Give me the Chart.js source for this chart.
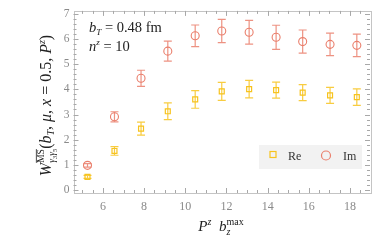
<!DOCTYPE html>
<html><head><meta charset="utf-8">
<script src="https://cdn.jsdelivr.net/npm/chart.js@4"></script>
<style>html,body{margin:0;padding:0;background:#fff}#w{width:382px;height:243px}</style>
</head><body><div id="w"><canvas id="c"></canvas></div>
<script>
const pzbz = [5.25, 6.56, 7.85, 9.15, 10.48, 11.77, 13.10, 14.41, 15.70, 17.03, 18.33];
const reVals = [0.52, 1.55, 2.44, 3.13, 3.60, 3.92, 4.01, 3.97, 3.87, 3.76, 3.69];
const reErr  = [0.06, 0.17, 0.26, 0.33, 0.35, 0.36, 0.35, 0.32, 0.32, 0.32, 0.33];
const imVals = [0.98, 2.91, 4.44, 5.52, 6.13, 6.32, 6.27, 6.07, 5.90, 5.79, 5.75];
const imErr  = [0.07, 0.20, 0.32, 0.40, 0.43, 0.46, 0.47, 0.48, 0.46, 0.45, 0.45];
const xTickLabels = [6, 8, 10, 12, 14, 16, 18];
const yTickLabels = [0, 1, 2, 3, 4, 5, 6, 7];
const seriesNames = ['Re', 'Im'];

const RE_C = '#f7c31e', IM_C = '#ea7f6c';
const SERIF = '"Liberation Serif", "DejaVu Serif", serif';

function richText(ctx, x, y, parts) {
  let cx = x, stackStart = null, stackMax = 0;
  for (const p of parts) {
    ctx.font = (p.it ? 'italic ' : '') + p.s + 'px ' + SERIF;
    if (p.stack === 'begin') { stackStart = cx; }
    if (p.stack === 'second') { stackMax = Math.max(stackMax, cx - stackStart); cx = stackStart; }
    const w = ctx.measureText(p.t).width;
    ctx.fillText(p.t, cx, y + (p.dy || 0));
    if (p.over) { ctx.fillRect(cx, y + (p.dy || 0) - p.s * 0.8, w, 0.8); }
    cx += w;
    if (p.stack === 'end') { cx = stackStart + Math.max(stackMax, cx - stackStart); stackStart = null; stackMax = 0; }
  }
  return cx - x;
}
function richWidth(parts) {
  const c = document.createElement('canvas').getContext('2d');
  return richText(c, 0, 0, parts);
}

const errorBars = {
  id: 'errorBars',
  afterDatasetsDraw(chart) {
    const ctx = chart.ctx, xs = chart.scales.x, ys = chart.scales.y;
    const sets = [[reVals, reErr, RE_C], [imVals, imErr, IM_C]];
    ctx.save();
    for (const [vals, errs, col] of sets) {
      ctx.strokeStyle = col; ctx.globalAlpha = 0.85; ctx.lineWidth = 1.2;
      vals.forEach((v, i) => {
        const px = xs.getPixelForValue(pzbz[i]);
        const y1 = ys.getPixelForValue(v - errs[i]), y2 = ys.getPixelForValue(v + errs[i]);
        ctx.beginPath();
        ctx.moveTo(px, y1); ctx.lineTo(px, y2);
        ctx.moveTo(px - 4, y1); ctx.lineTo(px + 4, y1);
        ctx.moveTo(px - 4, y2); ctx.lineTo(px + 4, y2);
        ctx.stroke();
      });
    }
    ctx.restore();
  }
};

const frame = {
  id: 'frame',
  afterDraw(chart) {
    const ctx = chart.ctx, a = chart.chartArea, xs = chart.scales.x, ys = chart.scales.y;
    ctx.save();
    ctx.strokeStyle = '#c4c4c4'; ctx.lineWidth = 1;
    ctx.strokeRect(Math.round(a.left) + 0.5, Math.round(a.top) + 0.5, Math.round(a.right - a.left), Math.round(a.bottom - a.top));
    ctx.strokeStyle = '#a8a8a8';
    ctx.beginPath();
    for (let v = 4.5; v <= 19.01; v += 0.5) {
      if (v < xs.min || v > xs.max) continue;
      const px = Math.round(xs.getPixelForValue(v)) + 0.5;
      const L = (Math.abs(v % 2) < 1e-6) ? 5 : 3;
      ctx.moveTo(px, a.bottom); ctx.lineTo(px, a.bottom - L);
      ctx.moveTo(px, a.top); ctx.lineTo(px, a.top + L);
    }
    for (let k = 0; k <= 36; k++) {
      const v = k * 0.2;
      if (v < ys.min || v > ys.max) continue;
      const py = Math.round(ys.getPixelForValue(v)) + 0.5;
      const L = (k % 5 === 0) ? 5 : 3;
      ctx.moveTo(a.left, py); ctx.lineTo(a.left + L, py);
      ctx.moveTo(a.right, py); ctx.lineTo(a.right - L, py);
    }
    ctx.stroke();

    // annotations
    ctx.fillStyle = '#222';
    ctx.textBaseline = 'alphabetic';
    richText(ctx, 89, 31.5, [{t:'b', s:14.5, it:true}, {t:'T', s:9, it:true, dy:3}, {t:' = 0.48 fm', s:14.5}]);
    richText(ctx, 89, 51, [{t:'n', s:14.5, it:true}, {t:'z', s:9, it:true, dy:-6}, {t:' = 10', s:14.5}]);

    // x title
    const xt = [{t:'P', s:15, it:true}, {t:'z', s:10, it:true, dy:-6}, {t:'  b', s:15, it:true},
                {t:'max', s:10, dy:-6, stack:'begin'}, {t:'z', s:10, it:true, dy:4, stack:'second'}, {t:'', s:10, stack:'end'}];
    const xw = richWidth(xt);
    richText(ctx, 221 - xw / 2, 231, xt);

    // y title
    const yt = [{t:'W', s:16, it:true},
      {t:'MS', s:9.5, dy:-7.5, over:true, stack:'begin'},
      {t:'γ', s:9.5, it:true, dy:3.5, stack:'second'}, {t:'3', s:6.5, dy:5.5}, {t:'γ', s:9.5, it:true, dy:3.5}, {t:'5', s:6.5, dy:5.5, stack:'end'},
      {t:'(', s:16}, {t:'b', s:16, it:true}, {t:'T', s:10, it:true, dy:3}, {t:', ', s:16}, {t:'μ', s:16, it:true},
      {t:', ', s:16}, {t:'x', s:16, it:true}, {t:' = 0.5, ', s:16}, {t:'P', s:16, it:true}, {t:'z', s:10, it:true, dy:-6}, {t:')', s:16}];
    const yw = richWidth(yt);
    ctx.save();
    ctx.translate(51, 105.5);
    ctx.rotate(-Math.PI / 2);
    richText(ctx, -yw / 2, 0, yt);
    ctx.restore();

    // legend
    ctx.fillStyle = '#f2f2f2';
    ctx.fillRect(259, 145, 103, 24);
    ctx.lineWidth = 1.2;
    ctx.strokeStyle = RE_C;
    ctx.strokeRect(270, 151.5, 6, 6);
    ctx.strokeStyle = IM_C;
    ctx.beginPath(); ctx.arc(326, 155.5, 4.5, 0, Math.PI * 2); ctx.stroke();
    ctx.fillStyle = '#333';
    ctx.font = '12px ' + SERIF;
    ctx.fillText(seriesNames[0], 288, 160);
    ctx.fillText(seriesNames[1], 343, 160);
    ctx.restore();
  }
};

new Chart(document.getElementById('c'), {
  type: 'scatter',
  data: {
    datasets: [
      { label: seriesNames[0], data: pzbz.map((x, i) => ({x, y: reVals[i]})), pointStyle: 'rect', radius: 3.5,
        borderColor: RE_C, backgroundColor: 'rgba(0,0,0,0)', borderWidth: 1.2, hoverRadius: 3.5 },
      { label: seriesNames[1], data: pzbz.map((x, i) => ({x, y: imVals[i]})), pointStyle: 'circle', radius: 4,
        borderColor: IM_C, backgroundColor: 'rgba(0,0,0,0)', borderWidth: 1.1, hoverRadius: 4 }
    ]
  },
  options: {
    responsive: true, maintainAspectRatio: false, animation: false,
    layout: { padding: { left: 0, right: 12, top: 10, bottom: 0 } },
    plugins: { legend: { display: false }, tooltip: { enabled: false } },
    scales: {
      x: {
        type: 'linear', min: 4.57, max: 18.97,
        afterBuildTicks: s => { s.ticks = xTickLabels.map(v => ({value: v})); },
        afterFit: s => { s.height = 50; },
        grid: { display: false, drawTicks: false }, border: { display: false },
        ticks: { color: '#8a8a8a', font: { family: SERIF, size: 12 }, padding: 7, maxRotation: 0 }
      },
      y: {
        type: 'linear', min: -0.12, max: 7.12,
        afterBuildTicks: s => { s.ticks = yTickLabels.map(v => ({value: v})); },
        afterFit: s => { s.width = 73.5; },
        grid: { display: false, drawTicks: false }, border: { display: false },
        ticks: { color: '#8a8a8a', font: { family: SERIF, size: 11.5 }, padding: 4 }
      }
    }
  },
  plugins: [errorBars, frame]
});
</script>
</body></html>
